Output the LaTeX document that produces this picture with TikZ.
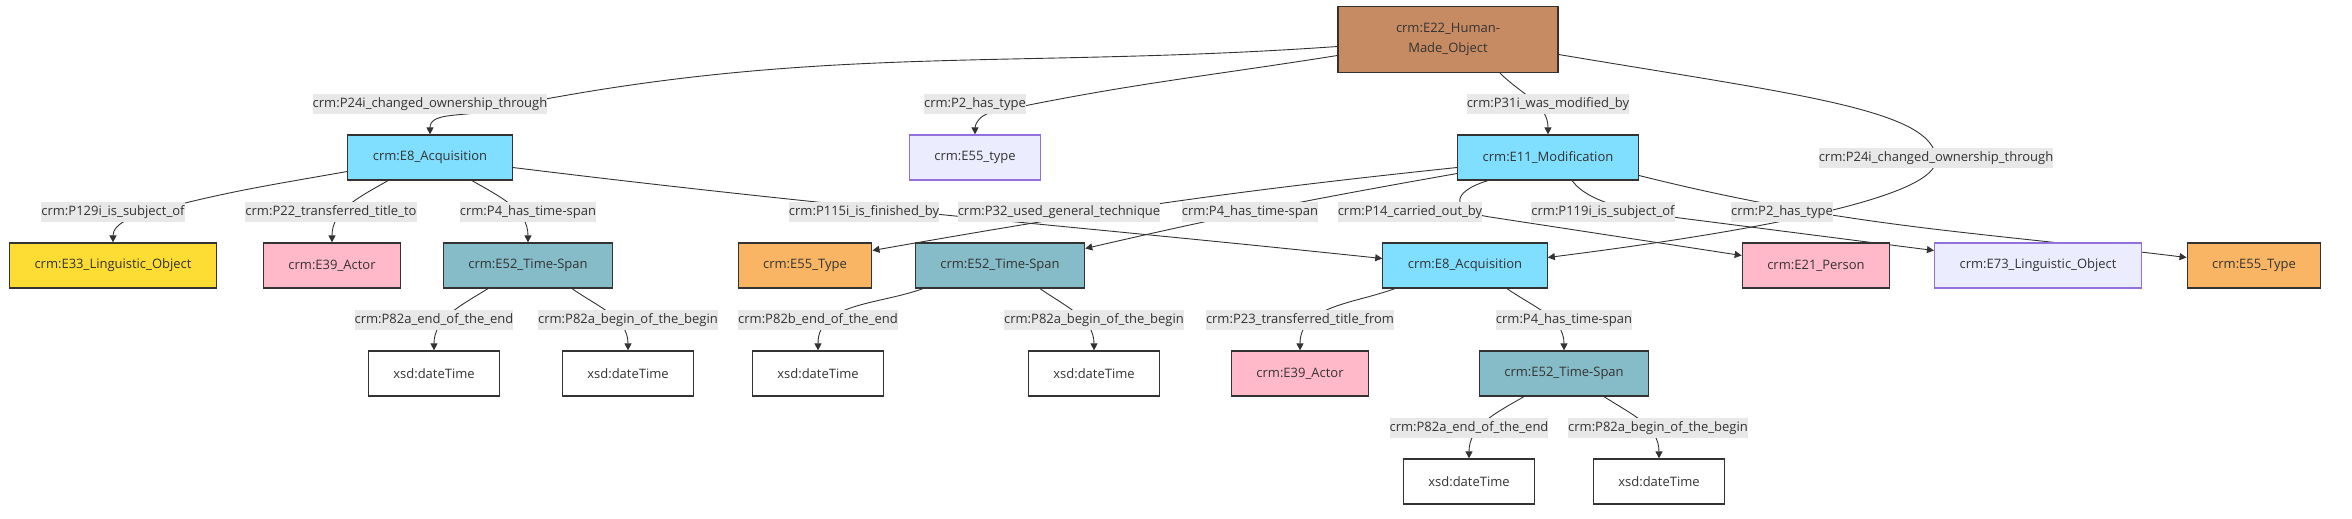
\documentclass[tikz,border=0pt]{standalone}
\usepackage{fontspec}
\setmainfont{Open Sans}
\usetikzlibrary{arrows.meta}
\usetikzlibrary{backgrounds}
\definecolor{ink}{RGB}{51,51,51}
\definecolor{lblgray}{RGB}{232,232,232}
\definecolor{humanmade}{RGB}{198,139,98}
\definecolor{event}{RGB}{128,222,255}
\definecolor{lavender}{RGB}{236,236,255}
\definecolor{lavenderline}{RGB}{147,112,219}
\definecolor{lingo}{RGB}{253,220,52}
\definecolor{actor}{RGB}{255,185,200}
\definecolor{timespan}{RGB}{134,187,200}
\definecolor{typeorange}{RGB}{249,181,99}

\begin{document}
\begin{tikzpicture}[x=1pt, y=-1pt,
    every node/.style={font=\fontsize{13}{16}\selectfont, text=ink},
    box/.style={draw=ink, line width=1.2pt, minimum height=45pt, inner xsep=25pt},
    lbl/.style={fill=lblgray, inner xsep=0pt, inner ysep=0pt, minimum height=20pt},
    edge/.style={draw=ink, line width=0.9pt, -{Triangle[length=7pt,width=7pt]}}]
    \useasboundingbox (0,0) rectangle (2352,519);

    \node[box, fill=humanmade, minimum width=220pt, minimum height=66pt, align=center,
        font=\fontsize{13}{20}\selectfont] (e22) at (1448,39.5) {crm:E22\_Human-\\Made\_Object};
    \node[box, fill=event] (a1) at (430,157.5) {crm:E8\_Acquisition};
    \node[box, fill=lavender, draw=lavenderline] (t55) at (975,157.5) {crm:E55\_type};
    \node[box, fill=event] (e11) at (1548,157.5) {crm:E11\_Modification};
    \node[box, fill=lingo] (e33) at (113,265.5) {crm:E33\_Linguistic\_Object};
    \node[box, fill=actor] (e39) at (332,265.5) {crm:E39\_Actor};
    \node[box, fill=timespan] (t1) at (528,265.5) {crm:E52\_Time-Span};
    \node[box, fill=typeorange] (e55) at (805,265.5) {crm:E55\_Type};
    \node[box, fill=timespan] (t2) at (1000,265.5) {crm:E52\_Time-Span};
    \node[box, fill=event] (a2) at (1465,265.5) {crm:E8\_Acquisition};
    \node[box, fill=actor] (e21) at (1816,265.5) {crm:E21\_Person};
    \node[box, fill=lavender, draw=lavenderline] (e73) at (2038,265.5) {crm:E73\_Linguistic\_Object};
    \node[box, fill=typeorange] (e55r) at (2254,265.5) {crm:E55\_Type};
    \node[box, fill=actor] (e39b) at (1300,373.5) {crm:E39\_Actor};
    \node[box, fill=timespan] (t3) at (1564,373.5) {crm:E52\_Time-Span};
    \foreach \n/\x/\y in {x1/434/373.5, x2/628/373.5, x3/818/373.5, x4/1094/373.5, x5/1469/481.5, x6/1659/481.5}
        \node[box, fill=white] (\n) at (\x,\y) {xsd:dateTime};

    \begin{scope}[on background layer]
    \draw[edge] ([yshift=-7pt]e22.west) to[out=184,in=12] (480,112) to[out=192,in=90] (a1.north);
    \draw[edge] ([yshift=-16pt]e22.west) to[out=189,in=12] (990,113) to[out=192,in=90] (t55.north);
    \draw[edge] ([xshift=52pt]e22.south) to[out=-45,in=90] (e11.north);
    \draw[edge] ([yshift=-15pt]e22.east) .. controls (1800,95) and (1936,110) .. (1936,160)
        .. controls (1936,195) and (1780,228) .. ([yshift=8pt]a2.east);
    \draw[edge] ([yshift=-14pt]a1.west) to[out=190,in=15] (150,212) to[out=195,in=90] (e33.north);
    \draw[edge] ([xshift=-42pt]a1.south) to[out=210,in=90] (e39.north);
    \draw[edge] ([xshift=42pt]a1.south) to[out=-30,in=90] (t1.north);
    \draw[edge] ([yshift=-10pt]a1.east) to[out=-7,in=174] ([yshift=7pt]a2.west);
    \draw[edge] ([yshift=-10pt]e11.west) to[out=186,in=10] ([yshift=15pt]e55.east);
    \draw[edge] ([yshift=-16pt]e11.west) to[out=190,in=13] ([yshift=17pt]t2.east);
    \draw[edge] ([xshift=-60pt]e11.south) .. controls (1450,192) and (1450,211) .. (1490,217)
        -- ([yshift=10pt]e21.west);
    \draw[edge] ([xshift=24pt]e11.south) .. controls (1590,205) and (1640,212) .. (1680,218)
        -- ([yshift=15pt]e73.west);
    \draw[edge] ([yshift=-18pt]e11.east) to[out=-14,in=173] ([yshift=8pt]e55r.west);
    \draw[edge] ([xshift=-40pt]t1.south) to[out=212,in=90] (x1.north);
    \draw[edge] ([xshift=44pt]t1.south) to[out=-35,in=90] (x2.north);
    \draw[edge] ([xshift=-77pt]t2.south) to[out=200,in=90] (x3.north);
    \draw[edge] ([xshift=40pt]t2.south) to[out=-35,in=90] (x4.north);
    \draw[edge] ([xshift=-70pt]a2.south) to[out=200,in=90] (e39b.north);
    \draw[edge] ([xshift=42pt]a2.south) to[out=-35,in=90] (t3.north);
    \draw[edge] ([xshift=-40pt]t3.south) to[out=210,in=90] (x5.north);
    \draw[edge] ([xshift=40pt]t3.south) to[out=-33,in=90] (x6.north);

    \foreach \x/\y/\t [count=\i] in {
        430/104/crm:P24i\_changed\_ownership\_through,
        975/104/crm:P2\_has\_type,
        1548/104/crm:P31i\_was\_modified\_by,
        1936/158/crm:P24i\_changed\_ownership\_through,
        113/212/crm:P129i\_is\_subject\_of,
        331/212/crm:P22\_transferred\_title\_to,
        528/212/crm:P4\_has\_time-span,
        864/212/crm:P115i\_is\_finished\_by,
        1059/212/crm:P32\_used\_general\_technique,
        1250/212/crm:P4\_has\_time-span,
        1410/212/crm:P14\_carried\_out\_by,
        1603/212/crm:P119i\_is\_subject\_of,
        1782/212/crm:P2\_has\_type,
        434/320/crm:P82a\_end\_of\_the\_end,
        628/320/crm:P82a\_begin\_of\_the\_begin,
        818/320/crm:P82b\_end\_of\_the\_end,
        1094/320/crm:P82a\_begin\_of\_the\_begin,
        1300/320/crm:P23\_transferred\_title\_from,
        1564/320/crm:P4\_has\_time-span,
        1469/428/crm:P82a\_end\_of\_the\_end,
        1658/428/crm:P82a\_begin\_of\_the\_begin}
        \node[lbl] (lb\i) at (\x,\y) {\t};
    \end{scope}
\end{tikzpicture}
\end{document}
